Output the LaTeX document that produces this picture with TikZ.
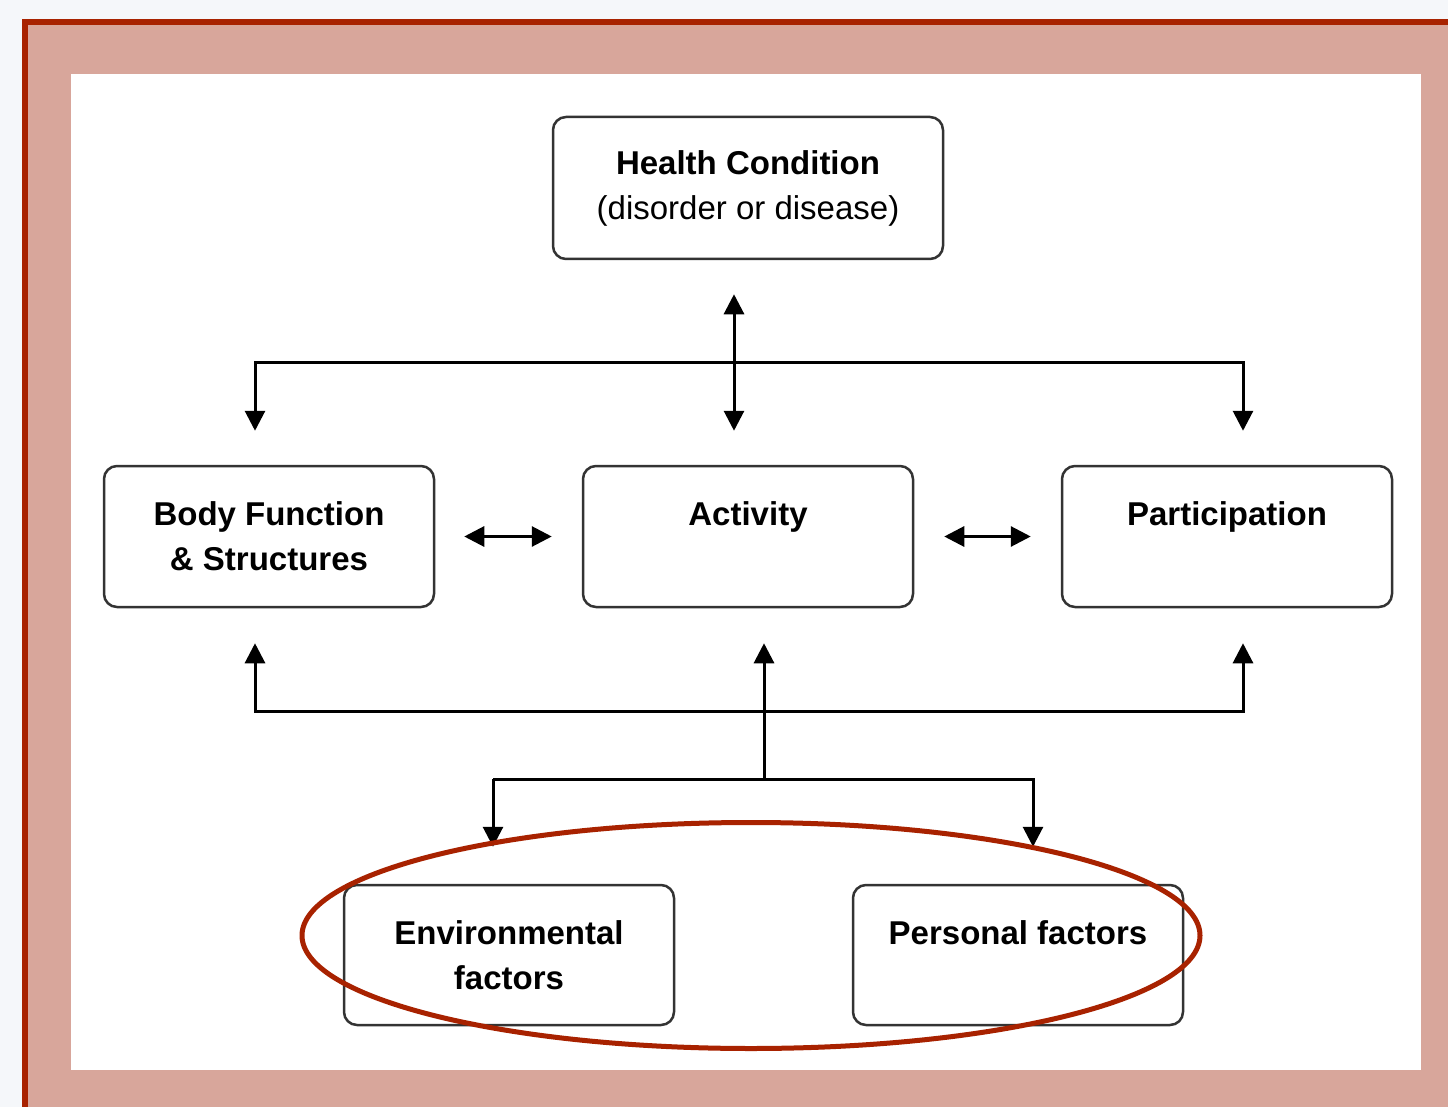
\documentclass[tikz,border=0pt]{standalone}
\usepackage{fontspec}
\setmainfont{Liberation Sans}
\usetikzlibrary{arrows.meta}
\definecolor{pagegray}{HTML}{F5F7FA}
\definecolor{framepink}{HTML}{D8A69B}
\definecolor{framered}{HTML}{A82200}
\definecolor{boxgray}{HTML}{333333}

\tikzset{
  icfbox/.style={draw=boxgray, line width=2.5pt, rounded corners=13pt,
    minimum width=330pt, minimum height=141pt, inner sep=0pt,
    align=center, font=\fontsize{33}{45}\selectfont\bfseries},
  wire/.style={line width=3pt, black},
  tip/.style={-{Triangle[width=20pt,length=20pt]}},
  tips/.style={{Triangle[width=20pt,length=20pt]}-{Triangle[width=20pt,length=20pt]}}
}

\begin{document}
\begin{tikzpicture}[x=1pt, y=-1pt]
    \useasboundingbox (0,0) rectangle (1448,1107);
    \clip (0,0) rectangle (1448,1107);
    \fill[pagegray] (0,0) rectangle (1448,1107);

    %% frame
    \fill[framepink] (22,19) rectangle (1460,1120);
    \draw[framered, line width=6pt] (25,1120) -- (25,22) -- (1460,22);
    \fill[white] (71,74) rectangle (1421,1070);

    %% boxes
    \node[icfbox, minimum width=390pt, minimum height=142pt] (health) at (748,188)
      {Health Condition\\\mdseries(disorder or disease)};
    \node[icfbox] (body) at (269,536.5) {Body Function\\\& Structures};
    \node[icfbox] (act) at (748,536.5) {Activity\\~};
    \node[icfbox] (part) at (1227,536.5) {Participation\\~};
    \node[icfbox, minimum height=140pt] (env) at (509,955) {Environmental\\factors};
    \node[icfbox, minimum height=140pt] (pers) at (1018,955) {Personal factors\\~};

    %% connectors
    \coordinate (hl) at (255,362);
    \coordinate (hr) at (1243,362);
    \coordinate (bl) at (255,711);
    \coordinate (br) at (1243,711);
    \coordinate (mid) at (764,779);
    \coordinate (fl) at (493,779);
    \coordinate (fr) at (1033,779);

    \draw[wire, tips, shorten <=34pt, shorten >=34pt]
      ([xshift=-14pt]health.south) -- ([xshift=-14pt]act.north);
    \draw[wire, tips, shorten <=34pt, shorten >=34pt]
      (body.north -| hl) -- (hl) -- (hr) -- (part.north -| hr);
    \draw[wire, tips, shorten <=29pt, shorten >=30pt] (body.east) -- (act.west);
    \draw[wire, tips, shorten <=30pt, shorten >=30pt] (act.east) -- (part.west);
    \draw[wire, tips, shorten <=35pt, shorten >=35pt]
      (body.south -| bl) -- (bl) -- (br) -- (part.south -| br);
    \draw[wire, tip, shorten >=35pt] (mid) -- (act.south -| mid);
    \draw[wire] (mid |- bl) -- (mid);
    \draw[wire, tip, shorten >=37pt] (fl) -- (env.north -| fl);
    \draw[wire, tip, shorten >=37pt] (fl) -- (fr) -- (pers.north -| fr);

    %% highlight
    \draw[framered, line width=5pt] (751,935.5) ellipse [x radius=449, y radius=113];
\end{tikzpicture}
\end{document}
